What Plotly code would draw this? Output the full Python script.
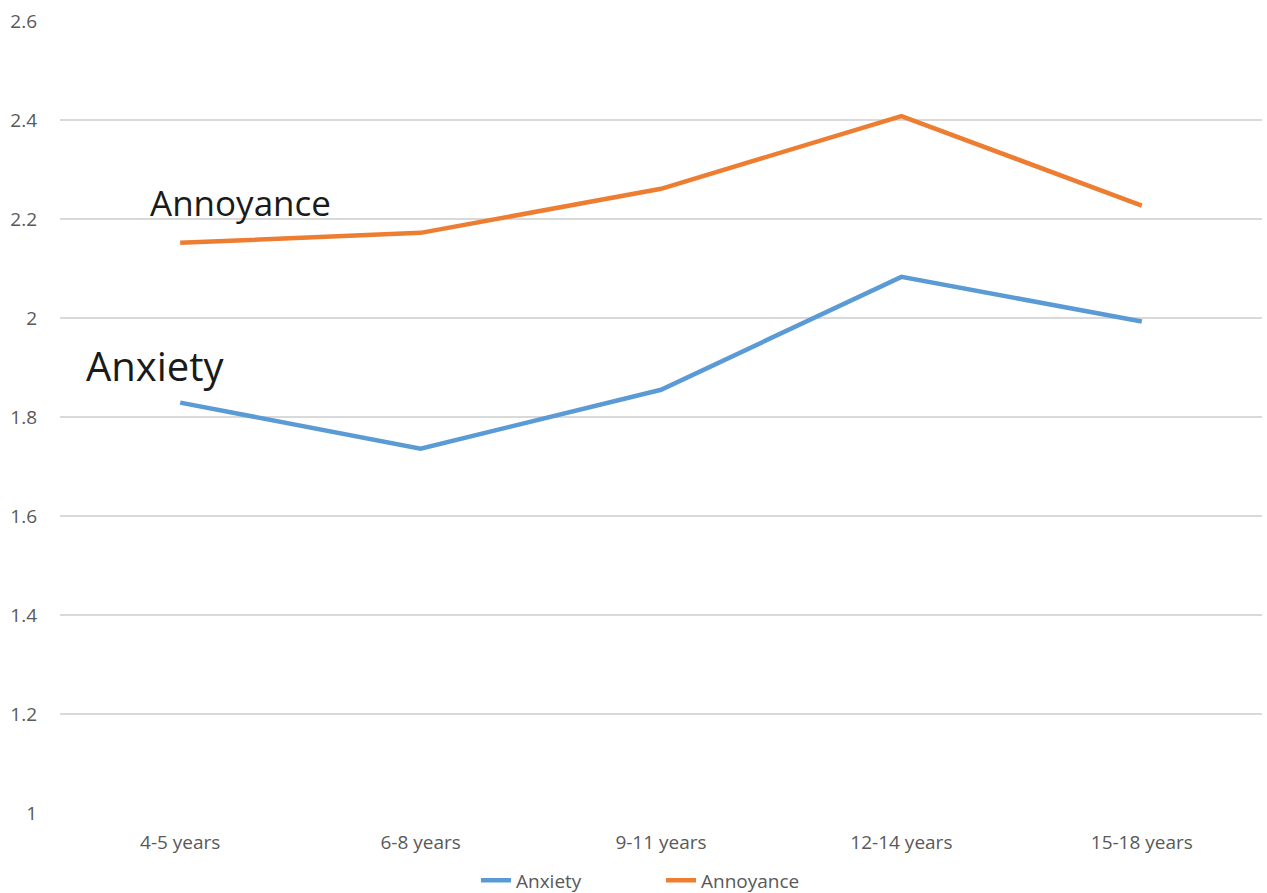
import plotly.graph_objects as go

age_groups = ["4-5 years", "6-8 years", "9-11 years", "12-14 years", "15-18 years"]
anxiety = [1.829, 1.736, 1.855, 2.083, 1.993]
annoyance = [2.152, 2.172, 2.261, 2.408, 2.227]
y_ticks = [1, 1.2, 1.4, 1.6, 1.8, 2, 2.2, 2.4, 2.6]
y_tick_text = ["1", "1.2", "1.4", "1.6", "1.8", "2", "2.2", "2.4", "2.6"]

FONT = "Open Sans"
GREY = "#595959"

fig = go.Figure()
fig.add_trace(go.Scatter(x=age_groups, y=anxiety, mode="lines", name="Anxiety",
                         line=dict(color="#5B9BD5", width=4.5)))
fig.add_trace(go.Scatter(x=age_groups, y=annoyance, mode="lines", name="Annoyance",
                         line=dict(color="#ED7D31", width=4.5)))

# Series labels written next to the first points
fig.add_annotation(x=0, y=2.233, xref="x", yref="y", text="Annoyance",
                   showarrow=False, xanchor="center", yanchor="middle",
                   xshift=60, font=dict(family=FONT, size=35, color="#1a1a1a"))
fig.add_annotation(x=0, y=1.905, xref="x", yref="y", text="Anxiety",
                   showarrow=False, xanchor="center", yanchor="middle",
                   xshift=-25, font=dict(family=FONT, size=40, color="#1a1a1a"))

fig.update_layout(
    width=1267, height=893,
    margin=dict(l=60, r=5, t=21, b=80),
    paper_bgcolor="white", plot_bgcolor="white",
    font=dict(family=FONT, color=GREY, size=19),
    showlegend=True,
    legend=dict(orientation="h", x=0.5, xanchor="center",
                yref="container", y=0.014, yanchor="middle",
                entrywidth=140, entrywidthmode="pixels",
                font=dict(size=19, color=GREY), tracegroupgap=0),
)
fig.update_xaxes(showgrid=False, showline=False, zeroline=False, ticks="",
                 tickfont=dict(size=19, color=GREY), range=[-0.5, 4.5],
                 ticklabelstandoff=16)
fig.update_yaxes(range=[1, 2.6], tickvals=y_ticks, ticktext=y_tick_text,
                 showgrid=True, gridcolor="#D9D9D9", gridwidth=1.5, zeroline=False,
                 showline=False, ticks="", ticklabelstandoff=22,
                 tickfont=dict(size=19, color=GREY))

fig.write_html("out.html")
